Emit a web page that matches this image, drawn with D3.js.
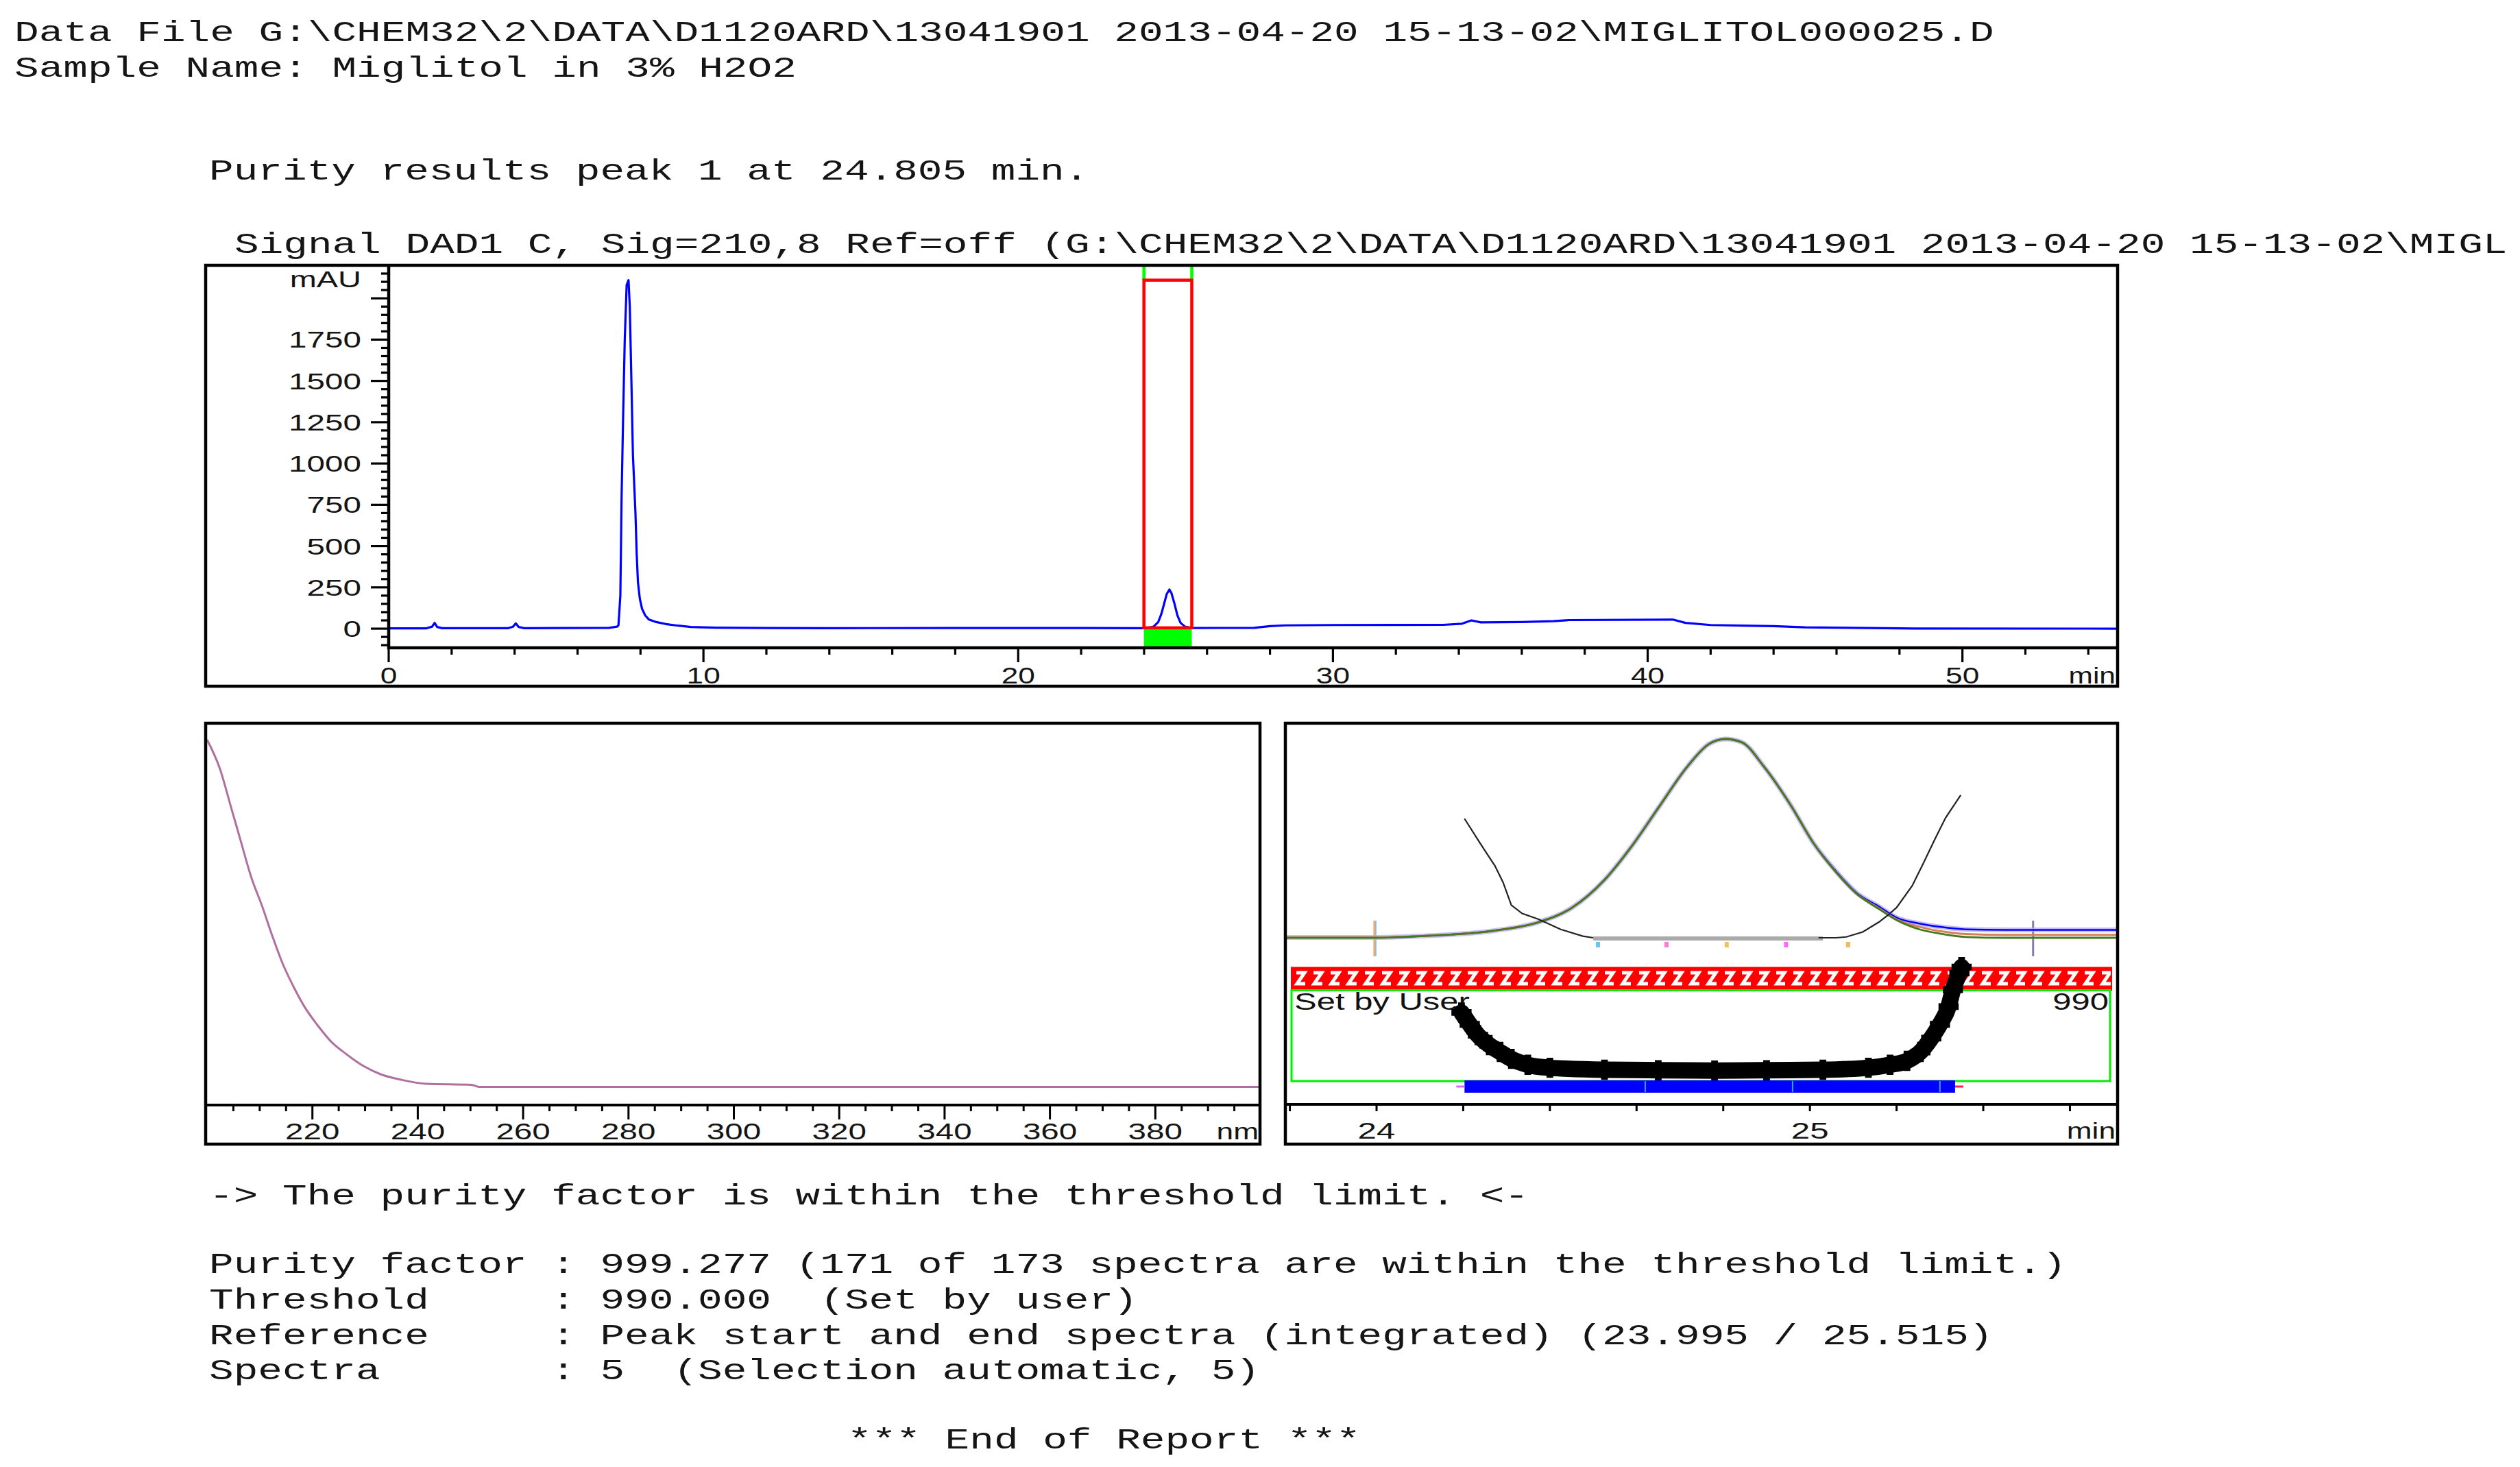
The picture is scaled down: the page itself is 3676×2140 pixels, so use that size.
<!DOCTYPE html>
<html><head><meta charset="utf-8">
<script src="https://cdn.jsdelivr.net/npm/d3@7"></script>
<style>html,body{margin:0;padding:0;background:#fff;}svg{display:block}</style>
</head><body>
<script>
// ---------------- DATA ----------------
const headerLines = [
  "Data File G:\\CHEM32\\2\\DATA\\D1120ARD\\13041901 2013-04-20 15-13-02\\MIGLITOL000025.D",
  "Sample Name: Miglitol in 3% H2O2"
];
const titleLine = "Purity results peak 1 at 24.805 min.";
const signalLine = "Signal DAD1 C, Sig=210,8 Ref=off (G:\\CHEM32\\2\\DATA\\D1120ARD\\13041901 2013-04-20 15-13-02\\MIGL";
const verdictLine = "-> The purity factor is within the threshold limit. <-";
const reportLines = [
  "Purity factor : 999.277 (171 of 173 spectra are within the threshold limit.)",
  "Threshold     : 990.000  (Set by user)",
  "Reference     : Peak start and end spectra (integrated) (23.995 / 25.515)",
  "Spectra       : 5  (Selection automatic, 5)"
];
const endLine = "*** End of Report ***";

// chromatogram (min, mAU)
const chromTime = [0,1.2,1.38,1.46,1.54,1.7,3.8,3.95,4.04,4.13,4.3,7.0,7.25,7.30,7.36,7.40,7.45,7.50,7.56,7.62,7.66,7.70,7.76,7.84,7.88,7.92,7.98,8.05,8.15,8.27,8.5,8.8,9.2,9.6,10.4,12,14,18,22,23.9,24.1,24.3,24.45,24.55,24.65,24.72,24.805,24.87,24.96,25.06,25.16,25.3,25.5,27.5,28,28.5,30,33.5,34.1,34.4,34.7,36,37,37.5,40.8,41.2,42,44,45,47,48.5,54.93];
const chromMAU  = [2,2,12,35,10,3,3,12,32,10,3,5,12,20,200,800,1300,1750,2080,2110,1950,1600,1050,700,450,280,180,120,80,55,40,28,18,10,6,4,3,4,4,3,4,12,40,90,160,210,237,215,155,80,35,12,4,5,15,20,22,23,30,50,38,40,45,52,55,35,22,15,8,4,1,0];
const chromYTicks = [0,250,500,750,1000,1250,1500,1750,2000];
const chromYLabels = ["0","250","500","750","1000","1250","1500","1750",""];
const chromXTicks = [0,10,20,30,40,50];
const chromXLabels = ["0","10","20","30","40","50"];
const peakStart = 23.995, peakEnd = 25.515, boxTopMAU = 2110, boxBaseMAU = 5;

// UV spectrum (nm, relative absorbance)
const spectrumNm  = [200,202.45,204.44,206.43,208.42,210.41,212.4,214.4,216.4,218.4,221.0,223.7,226.3,229.7,233.0,237.0,241.6,250.2,251.6,400];
const spectrumAbs = [100,91.6,81.2,70.7,60.3,52.3,43.5,35.4,29,23.4,17.8,12.9,9.7,6.1,3.7,2.1,1.0,0.7,0.1,0.1];
const specXTicks = [220,240,260,280,300,320,340,360,380];
const specXLabels = ["220","240","260","280","300","320","340","360","380"];

// purity panel: peak signals (min, mAU)
const peakTime   = [23.79,24.0,24.095,24.273,24.374,24.45,24.526,24.59,24.653,24.717,24.767,24.805,24.843,24.894,24.957,25.008,25.059,25.109,25.16,25.2,25.253,25.3,25.36,25.45,25.71];
const peakGreen  = [0,0,1.8,8.6,18.6,35.5,69,110,157,204,231,237,233,204,157,113,79,52,34,21,10,5,1,0,0];
const peakSalmon = [0.5,0.5,2,8.6,18.6,35.5,69,110,157,204,231,237,233,204,157,113,79,52,35,22,13,8,4.5,3.5,3.5];
const peakBlue   = [0.5,0.5,2,8.6,18.6,35.5,69,110,157,204,231,237,233,204,157,113,80,53,37,24,17,13,10,9.5,9.5];
// threshold (noise) curves
const thrLeftTime  = [24.203,24.235,24.255,24.273,24.292,24.311,24.336,24.374,24.425,24.476,24.50];
const thrLeftVal   = [142,116,100,86,66,39,29,22,10,2,0];
const thrRightTime = [25.02,25.06,25.084,25.122,25.16,25.18,25.2,25.236,25.262,25.287,25.313,25.348];
const thrRightVal  = [0,0,1,7,19,27,36,62,89,116,143,170];
const noiseBaseStart = 24.50, noiseBaseEnd = 25.03;
const spectraTimes = [24.511,24.669,24.808,24.945,25.088];
// purity (similarity) curve
const purityTime = [24.196,24.215,24.234,24.260,24.285,24.311,24.349,24.400,24.526,24.65,24.78,24.90,25.03,25.135,25.185,25.224,25.255,25.28,25.30,25.32,25.33,25.345,25.35];
const purityVal  = [993.4,994.6,995.7,996.7,997.4,998.1,998.7,999.0,999.2,999.25,999.28,999.25,999.2,999.0,998.7,998.3,997.4,996.0,994.6,992.8,991.1,989.4,988.8];
const purityThreshold = 990;
const purityBarStart = 24.203, purityBarEnd = 25.335;
const purityBarMarks = [24.62,24.96,25.30];
const purityXTicks = [23.8,24.0,24.2,24.4,24.6,24.8,25.0,25.2,25.4,25.6];
const purityXLabels = {"24":"24","25":"25"};

// ---------------- STYLE / LAYOUT ----------------
const W = 3676, H = 2140;
const CW = 35.65;
const SANS = "'Liberation Sans', Arial, Helvetica, sans-serif";
const MONO = "'Liberation Mono', 'Courier New', monospace";
const TXT = "#151515";
const spectraColors = ["#6cc4f0","#ff7ad0","#f0c060","#ff66ff","#f0b860"];

const svg = d3.select("body").append("svg").attr("width", W).attr("height", H);
const defs = svg.append("defs");
const pat = defs.append("pattern").attr("id","hatch").attr("patternUnits","userSpaceOnUse")
  .attr("width",25).attr("height",33).attr("x",1884).attr("y",1411);
pat.append("rect").attr("width",25).attr("height",33).attr("fill","#ff0000");
pat.append("path").attr("d","M7,8 H19 L8,24 H20").attr("stroke","#fff").attr("stroke-width",5)
  .attr("fill","none").attr("stroke-linejoin","miter");
defs.append("clipPath").attr("id","clipTop").append("rect").attr("x",567).attr("y",387).attr("width",3089-567).attr("height",945-387);
defs.append("clipPath").attr("id","clipSpec").append("rect").attr("x",300).attr("y",1055).attr("width",1538).attr("height",557);

function mono(x, y, s) {
  svg.append("text").attr("x", x).attr("y", y)
    .attr("font-family", MONO).attr("font-size", 42).attr("fill", TXT)
    .attr("textLength", s.length * CW).attr("lengthAdjust", "spacingAndGlyphs")
    .style("white-space", "pre").text(s);
}
function label(g, x, y, s, o = {}) {
  const size = o.size || 34, sx = o.sx || 1.4, anchor = o.anchor || "middle";
  g.append("text").attr("transform", `translate(${x},${y}) scale(${sx},1)`)
    .attr("text-anchor", anchor).attr("font-family", SANS).attr("font-size", size)
    .attr("font-weight", o.weight || "normal").attr("fill", o.fill || TXT).text(s);
}
function frame(x0, y0, x1, y1) {
  svg.append("rect").attr("x", x0).attr("y", y0).attr("width", x1 - x0).attr("height", y1 - y0)
    .attr("fill", "none").attr("stroke", "#000").attr("stroke-width", 4.5);
}
function hline(g, x0, x1, y, w, c) { g.append("line").attr("x1",x0).attr("x2",x1).attr("y1",y).attr("y2",y).attr("stroke",c||"#000").attr("stroke-width",w); }
function vline(g, x, y0, y1, w, c) { g.append("line").attr("x1",x).attr("x2",x).attr("y1",y0).attr("y2",y1).attr("stroke",c||"#000").attr("stroke-width",w); }

// ---------------- TEXT ----------------
mono(21, 60, headerLines[0]);
mono(21, 112, headerLines[1]);
mono(305, 262, titleLine);
mono(342, 369, signalLine);
mono(305, 1757, verdictLine);
reportLines.forEach((s, i) => mono(305, [1857, 1909, 1961, 2012][i], s));
mono(1236, 2113, endLine);

// ---------------- TOP CHROMATOGRAM ----------------
const gTop = svg.append("g");
const cx = d3.scaleLinear().domain([0, 54.93]).range([567, 3089]);
const cy = d3.scaleLinear().domain([-116, 2200]).range([945, 387]);
frame(300, 387, 3089, 1001);

gTop.append("rect").attr("x", cx(peakStart)).attr("width", cx(peakEnd) - cx(peakStart))
  .attr("y", cy(boxBaseMAU)).attr("height", cy(-116) - cy(boxBaseMAU)).attr("fill", "#00ff00");
[peakStart, peakEnd].forEach(t => vline(gTop, cx(t), 387, cy(boxTopMAU), 4.5, "#00ff00"));

const chromData = chromTime.map((t, i) => [t, chromMAU[i]]);
gTop.append("path").datum(chromData).attr("clip-path", "url(#clipTop)")
  .attr("d", d3.line().x(d => cx(d[0])).y(d => cy(d[1])))
  .attr("fill", "none").attr("stroke", "#0000ff").attr("stroke-width", 3.2).attr("stroke-linejoin", "round");

gTop.append("rect").attr("x", cx(peakStart)).attr("width", cx(peakEnd) - cx(peakStart))
  .attr("y", cy(boxTopMAU)).attr("height", cy(boxBaseMAU) - cy(boxTopMAU))
  .attr("fill", "none").attr("stroke", "#ff0000").attr("stroke-width", 4.5);

vline(gTop, 567, 387, 947, 4.5);
hline(gTop, 565, 3089, 945, 4.5);
d3.range(-100, 2200, 50).forEach(v => {
  const major = chromYTicks.includes(v);
  hline(gTop, 567 - (major ? 26 : 11), 567, cy(v), 3.2);
});
chromYTicks.forEach((v, i) => { if (chromYLabels[i]) label(gTop, 527, cy(v) + 12, chromYLabels[i], { anchor: "end", sx: 1.4 }); });
label(gTop, 527, 419, "mAU", { anchor: "end", sx: 1.38 });
d3.range(0, 55, 2).forEach(t => {
  const major = chromXTicks.includes(t);
  vline(gTop, cx(t), 945, 945 + (major ? 21 : 10), 3.2);
});
chromXTicks.forEach((t, i) => label(gTop, cx(t), 997, chromXLabels[i], { sx: 1.3 }));
label(gTop, 3086, 997, "min", { anchor: "end", sx: 1.25 });

// ---------------- SPECTRUM PANEL ----------------
const gSpec = svg.append("g");
const sx = d3.scaleLinear().domain([200, 400]).range([302, 1839]);
const sy = d3.scaleLinear().domain([0, 100]).range([1586, 1079]);
frame(300, 1055, 1838, 1669);
hline(gSpec, 300, 1838, 1612, 4);
d3.range(205, 400, 5).forEach(v => {
  const major = specXTicks.includes(v);
  vline(gSpec, sx(v), 1612, 1612 + (major ? 21 : 9), 3);
});
specXTicks.forEach((v, i) => label(gSpec, sx(v), 1662, specXLabels[i], { sx: 1.4 }));
label(gSpec, 1836, 1662, "nm", { anchor: "end", sx: 1.3 });
gSpec.append("path").datum(spectrumNm.map((n, i) => [n, spectrumAbs[i]])).attr("clip-path", "url(#clipSpec)")
  .attr("d", d3.line().x(d => sx(d[0])).y(d => sy(d[1])).curve(d3.curveMonotoneX))
  .attr("fill", "none").attr("stroke", "#b0709e").attr("stroke-width", 3);

// ---------------- PURITY PANEL ----------------
const gP = svg.append("g");
const px = d3.scaleLinear().domain([23.788, 25.71]).range([1874, 3089]);
const py = d3.scaleLinear().domain([0, 237]).range([1368, 1078]);
const pq = d3.scaleLinear().domain([990, 1000]).range([1428, 1572]);
frame(1875, 1055, 3089, 1669);
hline(gP, 1875, 3089, 1611, 4);
purityXTicks.forEach(t => vline(gP, px(t), 1611, 1621, 3));
purityXTicks.forEach(t => { const k = t.toFixed(1).replace(".0", ""); if (purityXLabels[k]) label(gP, px(t), 1661, purityXLabels[k], { sx: 1.45 }); });
label(gP, 3086, 1661, "min", { anchor: "end", sx: 1.3 });

vline(gP, px(peakStart), 1343, 1395, 3, "#e8b070");
vline(gP, px(peakStart) + 2, 1343, 1395, 2, "#90b8e8");
vline(gP, px(peakEnd), 1343, 1395, 3, "#8c7ca8");

const pline = d3.line().x(d => px(d[0])).y(d => py(d[1])).curve(d3.curveMonotoneX);
gP.append("path").datum(peakTime.map((t, i) => [t, peakBlue[i]])).attr("d", pline)
  .attr("fill", "none").attr("stroke", "#b4a8f0").attr("stroke-width", 7).attr("opacity", 0.75);
gP.append("path").datum(peakTime.map((t, i) => [t, peakBlue[i]])).attr("d", pline)
  .attr("fill", "none").attr("stroke", "#0000ff").attr("stroke-width", 2.5);
gP.append("path").datum(peakTime.map((t, i) => [t, peakSalmon[i]])).attr("d", pline)
  .attr("fill", "none").attr("stroke", "#d9805a").attr("stroke-width", 3);
gP.append("path").datum(peakTime.map((t, i) => [t, peakGreen[i]])).attr("d", pline)
  .attr("fill", "none").attr("stroke", "#437a1c").attr("stroke-width", 2.8);

const tline = d3.line().x(d => px(d[0])).y(d => py(d[1]));
hline(gP, px(noiseBaseStart), px(noiseBaseEnd), py(0) + 1, 6, "#aaaaaa");
gP.append("path").datum(thrLeftTime.map((t, i) => [t, thrLeftVal[i]])).attr("d", tline)
  .attr("fill", "none").attr("stroke", "#222").attr("stroke-width", 2.2);
gP.append("path").datum(thrRightTime.map((t, i) => [t, thrRightVal[i]])).attr("d", tline)
  .attr("fill", "none").attr("stroke", "#222").attr("stroke-width", 2.2);
spectraTimes.forEach((t, i) => gP.append("rect").attr("x", px(t) - 3).attr("y", py(0) + 6)
  .attr("width", 6).attr("height", 8).attr("fill", spectraColors[i]));

const barY = pq(purityThreshold);
gP.append("rect").attr("x", 1884).attr("y", barY - 16.5).attr("width", 3080 - 1884).attr("height", 33)
  .attr("fill", "url(#hatch)").attr("stroke", "#ff0000").attr("stroke-width", 2);
gP.append("rect").attr("x", 1884).attr("y", barY + 16.5).attr("width", 3078 - 1884).attr("height", 1577 - barY - 16.5)
  .attr("fill", "none").attr("stroke", "#00ee00").attr("stroke-width", 3);
label(gP, 1888, 1473, "Set by User", { sx: 1.4, size: 35, anchor: "start", fill: "#111" });
label(gP, 3076, 1473, "990", { sx: 1.4, size: 35, anchor: "end", fill: "#111" });

const purityData = purityTime.map((t, i) => [t, purityVal[i]]);
gP.append("path").datum(purityData)
  .attr("d", d3.line().x(d => px(d[0])).y(d => pq(d[1])).curve(d3.curveMonotoneX))
  .attr("fill", "none").attr("stroke", "#000").attr("stroke-width", 24)
  .attr("stroke-linecap", "round").attr("stroke-linejoin", "round");
gP.selectAll(".pm").data(purityData).join("path").attr("class", "pm")
  .attr("transform", d => `translate(${px(d[0])},${pq(d[1])})`)
  .attr("d", d3.symbol(d3.symbolCross, 480)).attr("fill", "#000");

gP.append("rect").attr("x", px(purityBarStart)).attr("y", 1576).attr("width", px(purityBarEnd) - px(purityBarStart))
  .attr("height", 18).attr("fill", "#0000ff");
purityBarMarks.forEach(t => vline(gP, px(t), 1577, 1593, 2, "#3aa0ff"));
hline(gP, px(purityBarStart) - 12, px(purityBarStart), 1585, 3, "#d070ff");
hline(gP, px(purityBarEnd), px(purityBarEnd) + 12, 1585, 3, "#ff2050");
</script>
</body></html>
